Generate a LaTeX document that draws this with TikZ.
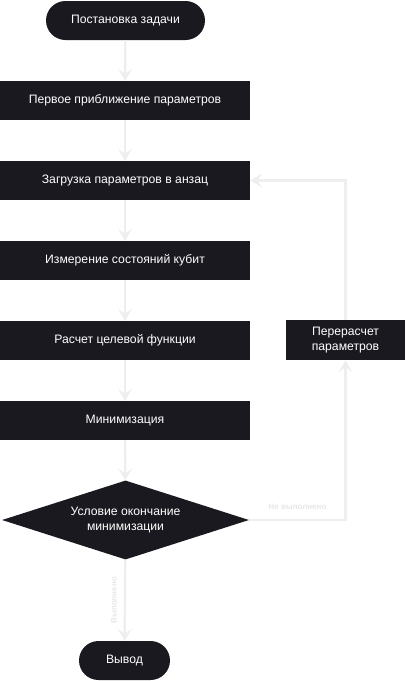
\documentclass[tikz,border=0pt]{standalone}
\usepackage{fontspec}
\setmainfont{Liberation Sans}
\definecolor{ddark}{HTML}{1B1920}
\definecolor{llight}{HTML}{EEEEEE}
\definecolor{llabel}{HTML}{E6E6E6}
\usetikzlibrary{shapes.geometric}
\usetikzlibrary{arrows.meta}

\begin{document}
\begin{tikzpicture}[x=1pt,y=-1pt,
	every node/.style={text=white,font=\fontsize{12.2}{15}\selectfont,align=center,inner sep=0pt},
	blok/.style={fill=ddark,minimum width=250pt,minimum height=39pt},
	term/.style={fill=ddark,rounded corners=19.5pt,minimum height=39pt},
	flow/.style={llight,line width=2.2pt,-{Stealth[length=12pt,width=14pt,inset=5pt]}},
	lbl/.style={text=llabel,font=\bfseries\fontsize{8}{9}\selectfont}]
				\useasboundingbox (0,0) rectangle (406,681);
				\node[term,minimum width=159pt] (n0) at (125.5,20.5) {Постановка задачи};
				\node[blok] (n1) at (125,100.5) {Первое приближение параметров};
				\node[blok] (n2) at (125,180.5) {Загрузка параметров в анзац};
				\node[blok] (n3) at (125,260.5) {Измерение состояний кубит};
				\node[blok] (n4) at (125,340.5) {Расчет целевой функции};
				\node[blok] (n5) at (125,420.5) {Минимизация};
				\node[diamond,fill=ddark,minimum width=247pt,minimum height=79pt,aspect=3.1] (n6) at (125.5,520) {Условие окончание\\минимизации};
				\node[fill=ddark,minimum width=119pt,minimum height=40pt] (n7) at (345.5,340) {Перерасчет\\параметров};
				\node[term,minimum width=91pt] (n8) at (124.5,660.5) {Вывод};
				\draw[flow] (n0) -- (n1);
				\draw[flow] (n1) -- (n2);
				\draw[flow] (n2) -- (n3);
				\draw[flow] (n3) -- (n4);
				\draw[flow] (n4) -- (n5);
				\draw[flow] (n5) -- (n6);
				\draw[flow] (n6) -- node[lbl,rotate=90,xshift=0pt,yshift=11pt] {Выполнено} (n8);
				\draw[flow] (n6.east) -| node[lbl,pos=0.5,above=9pt,xshift=-48pt] {Не выполнено} (n7);
				\draw[flow] (n7) |- (n2);
			\end{tikzpicture}
\end{document}
